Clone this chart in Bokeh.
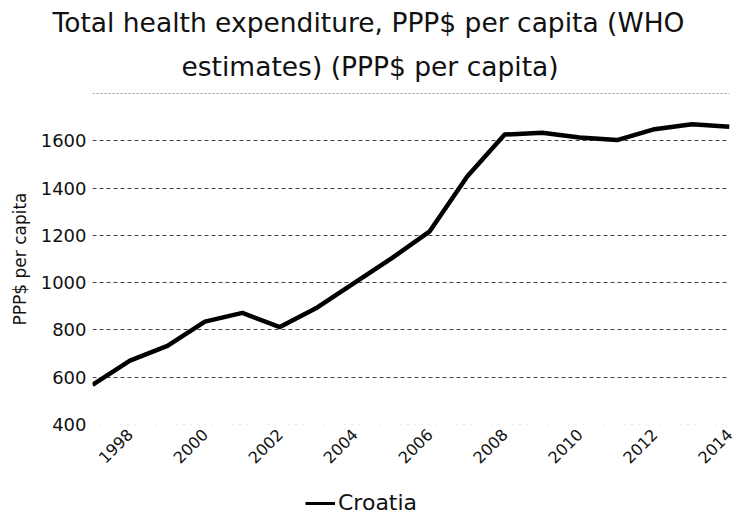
import math
from bokeh.plotting import figure
from bokeh.layouts import column
from bokeh.models import (Range1d, FixedTicker, Title, Legend, LegendItem, Grid)
from bokeh.embed import file_html
from bokeh.resources import INLINE

years = [1997, 1998, 1999, 2000, 2001, 2002, 2003, 2004, 2005, 2006, 2007,
         2008, 2009, 2010, 2011, 2012, 2013, 2014]
croatia = [568, 670, 733, 835, 872, 812, 895, 1000, 1105, 1217, 1449,
           1626, 1634, 1614, 1603, 1649, 1670, 1659]
series_name = "Croatia"
x_ticks = [1998, 2000, 2002, 2004, 2006, 2008, 2010, 2012, 2014]
y_ticks = [400, 600, 800, 1000, 1200, 1400, 1600]
y_grid_main = [600, 800, 1000, 1200, 1400, 1600]
y_grid_top = [1800]
y_grid_bottom = [400]

FONT = "DejaVu Sans"

p = figure(frame_width=637, frame_height=333, output_backend="svg",
           toolbar_location=None,
           x_range=Range1d(1997, 2014), y_range=Range1d(396, 1804),
           min_border_left=92, min_border_right=10, min_border_top=92,
           min_border_bottom=63)
p.outline_line_color = None
p.background_fill_color = "white"
p.border_fill_color = "white"

r = p.line(years, croatia, line_color="black", line_width=4.5,
           line_join="round")

# axes
p.xaxis.ticker = FixedTicker(ticks=x_ticks)
p.yaxis.ticker = FixedTicker(ticks=y_ticks)
for ax in (p.xaxis[0], p.yaxis[0]):
    ax.axis_line_color = None
    ax.major_tick_line_color = None
    ax.minor_tick_line_color = None
    ax.major_tick_out = 0
    ax.major_tick_in = 0
    ax.minor_tick_out = 0
    ax.major_label_text_font = FONT
    ax.major_label_text_color = "#111111"
p.xaxis.major_label_text_font_size = "16px"
p.yaxis.major_label_text_font_size = "18px"
p.xaxis.major_label_orientation = math.pi / 4
p.xaxis.major_label_standoff = 6
p.yaxis.major_label_standoff = 6
p.yaxis.axis_label = "PPP$ per capita"
p.yaxis.axis_label_text_font = FONT
p.yaxis.axis_label_text_font_size = "17px"
p.yaxis.axis_label_text_font_style = "normal"
p.yaxis.axis_label_text_color = "#111111"
p.yaxis.axis_label_standoff = 8

# grids
p.xgrid.grid_line_color = None
p.ygrid.ticker = FixedTicker(ticks=y_grid_main)
p.ygrid.grid_line_color = "#444444"
p.ygrid.grid_line_dash = "4 3"
p.ygrid.grid_line_width = 1
g_top = Grid(dimension=1, ticker=FixedTicker(ticks=y_grid_top),
             grid_line_color="#9a9a9a", grid_line_dash="2 2", grid_line_width=1)
g_bot = Grid(dimension=1, ticker=FixedTicker(ticks=y_grid_bottom),
             grid_line_color="#dddddd", grid_line_dash="1 6", grid_line_width=1)
p.add_layout(g_top)
p.add_layout(g_bot)

# titles (first added is closest to the plot)
t2 = Title(text="estimates) (PPP$ per capita)", align="left", offset=89,
           text_font=FONT, text_font_size="26.5px", text_font_style="normal",
           text_color="#111111", standoff=22)
t1 = Title(text="Total health expenditure, PPP$ per capita (WHO", align="left",
           offset=-40, text_font=FONT, text_font_size="26.5px",
           text_font_style="normal", text_color="#111111", standoff=0)
p.add_layout(t2, "above")
p.add_layout(t1, "above")
p.title.visible = False

# legend strip below the chart (its line renderer lies outside its own view)
p2 = figure(width=739, height=27, output_backend="svg", toolbar_location=None,
            x_axis_location=None, y_axis_location=None,
            x_range=Range1d(0, 1), y_range=Range1d(0, 1),
            min_border_left=0, min_border_right=0, min_border_top=0,
            min_border_bottom=0)
p2.outline_line_color = None
p2.xgrid.grid_line_color = None
p2.ygrid.grid_line_color = None
r2 = p2.line(years, croatia, line_color="black", line_width=3)
legend = Legend(items=[LegendItem(label=series_name, renderers=[r2])],
                location=(213, 0), orientation="horizontal",
                border_line_color=None, background_fill_alpha=0,
                label_text_font=FONT, label_text_font_size="22px",
                label_text_color="#111111", glyph_width=30, glyph_height=20,
                label_standoff=3, padding=2, margin=0, spacing=0)
p2.add_layout(legend)

layout = column(p, p2, spacing=0)
open("out.html", "w").write(file_html(layout, INLINE))
